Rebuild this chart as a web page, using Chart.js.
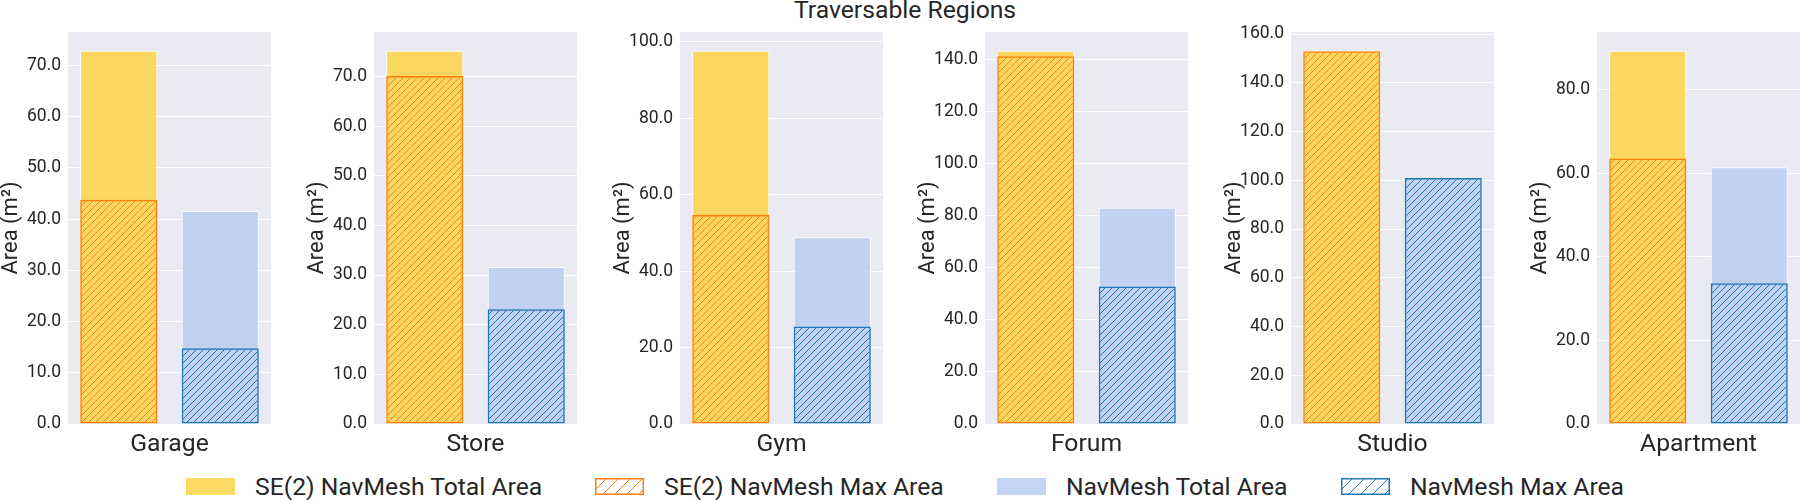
<!DOCTYPE html>
<html>
<head>
<meta charset="utf-8">
<script src="https://cdn.jsdelivr.net/npm/chart.js@4.4.1/dist/chart.umd.min.js"></script>
<style>
    body { margin: 0; background: #fff; font-family: Roboto, sans-serif; }
    #wrap { position: relative; width: 1800px; height: 500px; overflow: hidden; }
    #wrap canvas.panel { position: absolute; top: 0; }
    #title { position: absolute; top: -2px; left: 794px; font-size: 24.7px; line-height: 24px; color: #262626; white-space: nowrap; }
    .item { position: absolute; top: 471px; height: 30px; display: flex; align-items: center; }
    .item canvas { margin-right: 20px; }
    .item span { font-size: 24.7px; color: #262626; white-space: nowrap; }
</style>
</head>
<body>
<div id="wrap">
    <div id="title">Traversable Regions</div>
</div>

<script>
// ============================================================
// DONNÉES
// ============================================================

const categories = ["Garage", "Store", "Gym", "Forum", "Studio", "Apartment"];
const barLabels = ["SE(2) NavMesh", "NavMesh"];

const se2Total = [72.9, 75.2, 97.7, 143.4, 153.2, 89.4];
const se2Max   = [43.8, 70.1, 54.7, 141.3, 153.0, 63.6];
const navTotal = [41.6, 31.6, 48.9, 83.1, 101.1, 61.5];
const navMax   = [14.8, 23.1, 25.5, 52.8, 100.9, 33.7];

const yTicks = [
    [0, 10, 20, 30, 40, 50, 60, 70],
    [0, 10, 20, 30, 40, 50, 60, 70],
    [0, 20, 40, 60, 80, 100],
    [0, 20, 40, 60, 80, 100, 120, 140],
    [0, 20, 40, 60, 80, 100, 120, 140, 160],
    [0, 20, 40, 60, 80]
];

const legendLabels = ["SE(2) NavMesh Total Area", "SE(2) NavMesh Max Area", "NavMesh Total Area", "NavMesh Max Area"];

// ============================================================
// STYLES
// ============================================================

const yellow = "rgba(252, 210, 60, 0.8)";
const lightBlue = "rgba(185, 205, 242, 0.85)";
const orange = "#ff7f0e";
const blue = "#1f77b4";
const textColor = "#262626";
const panelBg = "#eaeaf2";

Chart.defaults.font.family = "Roboto";
Chart.defaults.color = textColor;

// motif hachuré "/"
function makeHatch(ctx, color, step, bg) {
    const c = document.createElement("canvas");
    c.width = step;
    c.height = step;
    const g = c.getContext("2d");
    if (bg) {
        g.fillStyle = bg;
        g.fillRect(0, 0, step, step);
    }
    g.strokeStyle = color;
    g.lineWidth = 1;
    g.beginPath();
    g.moveTo(0, step); g.lineTo(step, 0);
    g.moveTo(-1, 1); g.lineTo(1, -1);
    g.moveTo(step - 1, step + 1); g.lineTo(step + 1, step - 1);
    g.stroke();
    return ctx.createPattern(c, "repeat");
}

// fond gris de la zone de tracé
const plotBg = {
    id: "plotBg",
    beforeDraw(chart) {
        const a = chart.chartArea;
        const ctx = chart.ctx;
        ctx.save();
        ctx.fillStyle = panelBg;
        ctx.fillRect(a.left, a.top, a.right - a.left, a.bottom - a.top);
        ctx.restore();
    }
};

// ============================================================
// GRAPHIQUES
// ============================================================

const wrap = document.getElementById("wrap");
const panelStep = 305.8;
const axisWidth = 68;
const plotWidth = 203;

categories.forEach((cat, k) => {
    const canvas = document.createElement("canvas");
    canvas.className = "panel";
    canvas.width = axisWidth + plotWidth;
    canvas.height = 460;
    canvas.style.left = Math.round(k * panelStep) + "px";
    wrap.appendChild(canvas);
    const ctx = canvas.getContext("2d");

    const hatchOrange = makeHatch(ctx, orange, 7);
    const hatchBlue = makeHatch(ctx, blue, 7);
    const yMax = Math.max(se2Total[k], se2Max[k], navTotal[k], navMax[k]) * 1.05;

    new Chart(ctx, {
        type: "bar",
        data: {
            labels: barLabels,
            datasets: [
                {
                    label: "Max Area",
                    data: [se2Max[k], navMax[k]],
                    backgroundColor: [hatchOrange, hatchBlue],
                    borderColor: [orange, blue],
                    borderWidth: 1.5,
                    borderSkipped: false,
                    grouped: false,
                    order: 0,
                    categoryPercentage: 1,
                    barPercentage: 0.76
                },
                {
                    label: "Total Area",
                    data: [se2Total[k], navTotal[k]],
                    backgroundColor: [yellow, lightBlue],
                    borderColor: "#ffffff",
                    borderWidth: 1,
                    borderSkipped: false,
                    grouped: false,
                    order: 1,
                    categoryPercentage: 1,
                    barPercentage: 0.76
                }
            ]
        },
        options: {
            responsive: false,
            animation: false,
            layout: { padding: { top: 32, left: 0, right: 0, bottom: 0 } },
            plugins: {
                legend: { display: false },
                tooltip: { enabled: false }
            },
            scales: {
                x: {
                    ticks: { display: false },
                    grid: { display: false },
                    border: { display: false },
                    title: { display: true, text: cat, font: { size: 24.7 }, padding: 0 },
                    afterFit: s => { s.height = 36; }
                },
                y: {
                    min: 0,
                    max: yMax,
                    afterBuildTicks: s => { s.ticks = yTicks[k].map(v => ({ value: v })); },
                    ticks: { callback: v => v.toFixed(1), padding: 7, font: { size: 17.5 } },
                    grid: { color: "#ffffff", lineWidth: 1, drawTicks: false },
                    border: { display: false },
                    title: { display: true, text: "Area (m²)", font: { size: 22, lineHeight: 1 }, padding: 0 },
                    afterFit: s => { s.width = axisWidth; }
                }
            }
        },
        plugins: [plotBg]
    });
});

// ============================================================
// LÉGENDE
// ============================================================

const legendX = [186, 595, 997, 1341];
const swatches = [
    { fill: yellow },
    { hatch: orange },
    { fill: lightBlue },
    { hatch: blue }
];

legendLabels.forEach((text, i) => {
    const item = document.createElement("div");
    item.className = "item";
    item.style.left = legendX[i] + "px";
    const sw = document.createElement("canvas");
    sw.width = 49;
    sw.height = 17;
    const g = sw.getContext("2d");
    const s = swatches[i];
    if (s.fill) {
        g.fillStyle = s.fill;
        g.fillRect(0, 0, 49, 17);
    } else {
        g.fillStyle = makeHatch(g, s.hatch, 12, "#ffffff");
        g.fillRect(0, 0, 49, 17);
        g.strokeStyle = s.hatch;
        g.lineWidth = 1.5;
        g.strokeRect(0.75, 0.75, 47.5, 15.5);
    }
    const label = document.createElement("span");
    label.textContent = text;
    item.appendChild(sw);
    item.appendChild(label);
    wrap.appendChild(item);
});
</script>
</body>
</html>
